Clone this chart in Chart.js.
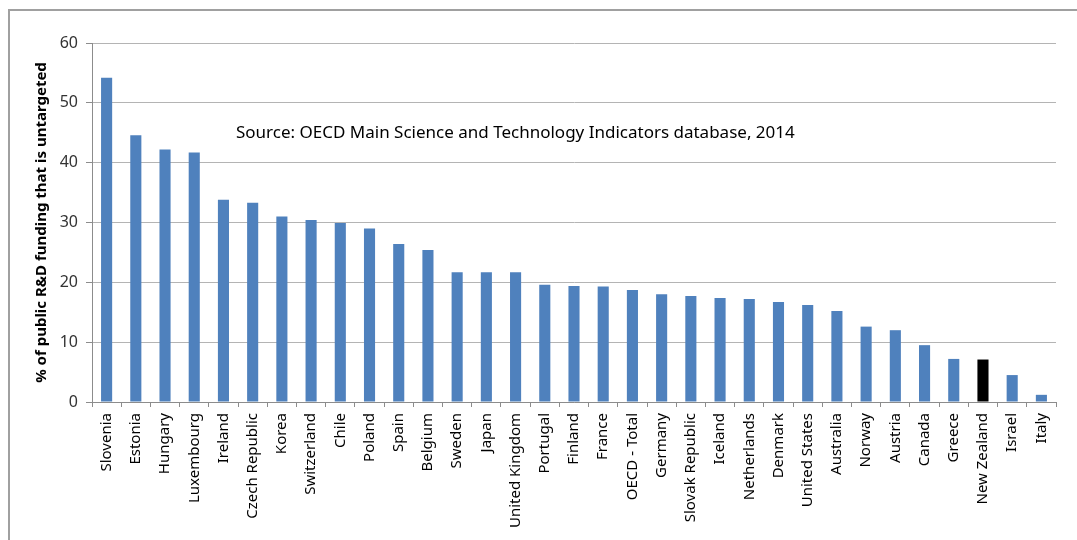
<!DOCTYPE html>
<html>
<head>
<meta charset="utf-8">
<script src="https://cdn.jsdelivr.net/npm/chart.js@4"></script>
<style>
  html, body { margin: 0; padding: 0; background: #fff; }
  #wrap { position: relative; width: 1077px; height: 540px; overflow: hidden; }
  #frame { position: absolute; left: 8px; top: 9px; width: 1200px; height: 700px;
           border-left: 2px solid #a0a0a0; border-top: 2px solid #a0a0a0; }
  canvas { position: absolute; left: 0; top: 0; }
</style>
</head>
<body>
<div id="wrap">
  <div id="frame"></div>
  <canvas id="chart" width="1077" height="540"></canvas>
</div>
<script>
const countries = [
  "Slovenia", "Estonia", "Hungary", "Luxembourg", "Ireland", "Czech Republic", "Korea",
  "Switzerland", "Chile", "Poland", "Spain", "Belgium", "Sweden", "Japan", "United Kingdom",
  "Portugal", "Finland", "France", "OECD - Total", "Germany", "Slovak Republic", "Iceland",
  "Netherlands", "Denmark", "United States", "Australia", "Norway", "Austria", "Canada",
  "Greece", "New Zealand", "Israel", "Italy"
];
const untargeted = [
  54.2, 44.6, 42.2, 41.7, 33.8, 33.3, 31.0,
  30.4, 29.9, 29.0, 26.4, 25.4, 21.7, 21.7, 21.7,
  19.6, 19.4, 19.3, 18.7, 18.0, 17.7, 17.4,
  17.2, 16.7, 16.2, 15.2, 12.6, 12.0, 9.5,
  7.2, 7.1, 4.5, 1.2
];
const highlight = "New Zealand";
const yTicks = [0, 10, 20, 30, 40, 50, 60];
const sourceNote = "Source: OECD Main Science and Technology Indicators database, 2014";
const yTitle = "% of public R&D funding that is untargeted";

const FONT = "'Noto Sans', 'Open Sans', sans-serif";

// source note drawn inside the plot area
const notePlugin = {
  id: "note",
  afterDraw(chart) {
    const { ctx, chartArea } = chart;
    ctx.save();
    ctx.font = "17px " + FONT;
    ctx.fillStyle = "#000";
    ctx.textBaseline = "middle";
    ctx.fillText(sourceNote, chartArea.left + 144, 133);
    ctx.restore();
  }
};

new Chart(document.getElementById("chart"), {
  type: "bar",
  data: {
    labels: countries,
    datasets: [{
      data: untargeted,
      backgroundColor: countries.map(c => c === highlight ? "#000000" : "#4f81bd"),
      borderWidth: 0,
      categoryPercentage: 1,
      barPercentage: 0.38
    }]
  },
  options: {
    responsive: false,
    animation: false,
    layout: { padding: { left: 33, top: 43, right: 21, bottom: 0 } },
    plugins: { legend: { display: false }, tooltip: { enabled: false } },
    scales: {
      x: {
        grid: { display: true, drawOnChartArea: false, offset: true, color: "#8c8c8c", tickLength: 5 },
        border: { color: "#8c8c8c", width: 1 },
        ticks: {
          color: "#000", font: { family: FONT, size: 15 },
          minRotation: 90, maxRotation: 90, autoSkip: false, padding: 6
        },
        afterFit(scale) { scale.height = 138; }
      },
      y: {
        min: 0, max: 60,
        afterBuildTicks(scale) { scale.ticks = yTicks.map(v => ({ value: v })); },
        grid: { color: "#b4b4b4", tickLength: 6, tickColor: "#8c8c8c" },
        border: { color: "#8c8c8c", width: 1 },
        ticks: { color: "#333", font: { family: FONT, size: 16 }, padding: 8 },
        title: {
          display: true, text: yTitle, color: "#000",
          font: { family: FONT, size: 15, weight: "bold" }, padding: { top: 0, bottom: 0 }
        },
        afterFit(scale) { scale.width = 59; }
      }
    }
  },
  plugins: [notePlugin]
});
</script>
</body>
</html>
